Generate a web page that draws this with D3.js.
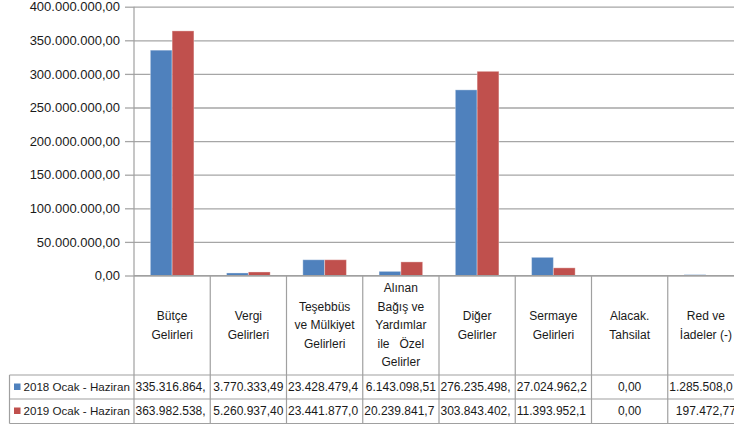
<!DOCTYPE html>
<html>
<head>
<meta charset="utf-8">
<script src="https://cdn.jsdelivr.net/npm/d3@7"></script>
<style>
  body { margin: 0; background: #fff; }
  svg { display: block; font-family: "Liberation Sans", Arial, sans-serif; }
</style>
</head>
<body>
<div id="chart"></div>
<script>
// Categories (header cells of the data table, line breaks as in the picture)
var categories = [
  "Bütçe\nGelirleri",
  "Vergi\nGelirleri",
  "Teşebbüs\nve Mülkiyet\nGelirleri",
  "Alınan\nBağış ve\nYardımlar\nile   Özel\nGelirler",
  "Diğer\nGelirler",
  "Sermaye\nGelirleri",
  "Alacak.\nTahsilat",
  "Red ve\nİadeler (-)"
];
var seriesNames = ["2018 Ocak - Haziran", "2019 Ocak - Haziran"];

// Values as shown in the data table (cells cut off like in the original)
var text2018 = ["335.316.864,", "3.770.333,49", "23.428.479,4", "6.143.098,51", "276.235.498,", "27.024.962,2", "0,00", "1.285.508,0"];
var text2019 = ["363.982.538,", "5.260.937,40", "23.441.877,0", "20.239.841,7", "303.843.402,", "11.393.952,1", "0,00", "197.472,77"];

var yTicks = [0, 50e6, 100e6, 150e6, 200e6, 250e6, 300e6, 350e6, 400e6];

var colors = ["#4F81BD", "#C0504D"];

// turn "1.234,5" into a number
function parseTr(s) { return +s.replace(/\./g, "").replace(",", "."); }
var values2018 = text2018.map(parseTr);
var values2019 = text2019.map(parseTr);
var rows = [text2018, text2019];

var data = categories.map(function(c, i) {
  return { cat: c, vals: [values2018[i], values2019[i]] };
});

var w = 734, h = 428;
var plotLeft = 134, plotRight = 744, plotTop = 6.7, axisY = 275.5;
var headerBottom = 375, rowH = 24, tableBottom = 423.5, legendLeft = 9.5;

var trLocale = d3.formatLocale({ decimal: ",", thousands: ".", grouping: [3], currency: ["", ""] });
var fmt = trLocale.format(",.2f");

var svg = d3.select("#chart").append("svg")
  .attr("width", w)
  .attr("height", h);

// Scales
var xScale = d3.scaleBand().domain(categories).range([plotLeft, plotRight]).padding(0);
var bw = xScale.bandwidth();
var groupW = 2 * bw / 3.5;   // gap width 150%
var xInner = d3.scaleBand().domain([0, 1]).range([0, groupW]);
var yScale = d3.scaleLinear().domain([0, 400e6]).range([axisY, plotTop]);

// Gridlines
svg.append("g")
  .attr("transform", "translate(" + plotLeft + ",0)")
  .call(d3.axisLeft(yScale).tickValues(yTicks).tickSize(-(plotRight - plotLeft)).tickFormat(""))
  .call(function(g) { g.select(".domain").remove(); })
  .selectAll("line")
    .attr("stroke", "#a6a6a6")
    .attr("stroke-width", 1.3);

// Y axis with labels
svg.append("g")
  .attr("transform", "translate(" + plotLeft + ",0)")
  .call(d3.axisLeft(yScale).tickValues(yTicks).tickSize(9).tickPadding(5).tickFormat(fmt))
  .call(function(g) {
    g.select(".domain").remove();
    g.selectAll("line").attr("stroke", "#a6a6a6").attr("stroke-width", 1.3);
    g.selectAll("text").attr("font-size", "13px").attr("fill", "#1a1a1a")
      .attr("font-family", "'Liberation Sans', Arial, sans-serif");
  });

// Bars
var groups = svg.selectAll(".grp").data(data).enter().append("g")
  .attr("transform", function(d) { return "translate(" + (xScale(d.cat) + (bw - groupW) / 2) + ",0)"; });

groups.selectAll("rect").data(function(d) { return d.vals; }).enter().append("rect")
  .attr("x", function(d, i) { return xInner(i); })
  .attr("y", function(d) { return yScale(d); })
  .attr("width", xInner.bandwidth())
  .attr("height", function(d) { return axisY - yScale(d); })
  .attr("fill", function(d, i) { return colors[i]; })
  .attr("stroke", "rgba(255,255,255,0.35)")
  .attr("stroke-width", 1);

// Table lines
var lineColor = "#a0a0a0";
var lines = svg.append("g").attr("stroke", lineColor).attr("stroke-width", 1.2);
// left border of plot, down to bottom of table
lines.append("line").attr("x1", plotLeft).attr("x2", plotLeft).attr("y1", plotTop).attr("y2", tableBottom);
// axis line
lines.append("line").attr("x1", plotLeft).attr("x2", plotRight).attr("y1", axisY).attr("y2", axisY);
// column separators
categories.forEach(function(c) {
  var x = xScale(c) + bw;
  lines.append("line").attr("x1", x).attr("x2", x).attr("y1", axisY).attr("y2", tableBottom);
});
// row lines
[headerBottom, headerBottom + rowH, tableBottom].forEach(function(y) {
  lines.append("line").attr("x1", legendLeft).attr("x2", plotRight).attr("y1", y).attr("y2", y);
});
lines.append("line").attr("x1", legendLeft).attr("x2", legendLeft).attr("y1", headerBottom).attr("y2", tableBottom);

// Header labels
var lineH = 18.5;
var headerMid = (axisY + headerBottom) / 2;
categories.forEach(function(c) {
  var parts = c.split("\n");
  var t = svg.append("text")
    .attr("text-anchor", "middle")
    .attr("font-size", "12px")
    .attr("fill", "#1a1a1a")
    .style("white-space", "pre");
  parts.forEach(function(p, i) {
    t.append("tspan")
      .attr("x", xScale(c) + bw / 2)
      .attr("y", headerMid + (i - (parts.length - 1) / 2) * lineH)
      .attr("dy", "0.35em")
      .text(p);
  });
});

// Clip paths for table cells
var defs = svg.append("defs");
categories.forEach(function(c, i) {
  defs.append("clipPath").attr("id", "cell" + i)
    .append("rect").attr("x", xScale(c) + 0.5).attr("y", headerBottom)
    .attr("width", bw - 1).attr("height", rowH * 2);
});

// Data rows
rows.forEach(function(row, r) {
  var yMid = headerBottom + rowH * r + rowH / 2;
  // legend key + series name
  svg.append("rect")
    .attr("x", 14).attr("y", yMid - 3.5)
    .attr("width", 6.5).attr("height", 6.5)
    .attr("fill", colors[r]);
  svg.append("text")
    .attr("x", 23.5).attr("y", yMid).attr("dy", "0.35em")
    .attr("font-size", "11.6px").attr("fill", "#1a1a1a")
    .text(seriesNames[r]);
  row.forEach(function(s, i) {
    var cut = !/,\d\d$/.test(s);
    svg.append("text")
      .attr("clip-path", "url(#cell" + i + ")")
      .attr("x", cut ? xScale(categories[i]) + 1.5 : xScale(categories[i]) + bw / 2)
      .attr("y", yMid).attr("dy", "0.35em")
      .attr("text-anchor", cut ? "start" : "middle")
      .attr("font-size", "12px").attr("fill", "#1a1a1a")
      .text(s);
  });
});
</script>
</body>
</html>
